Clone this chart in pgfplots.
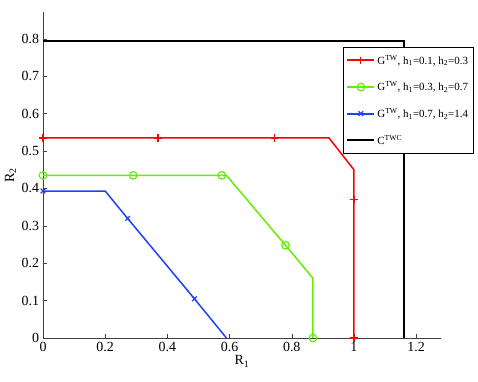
\documentclass[border=0pt]{standalone}
\usepackage{fontspec}
\setmainfont{Liberation Serif}
\usepackage{pgfplots}
\pgfplotsset{compat=1.18}
\definecolor{mred}{RGB}{255,0,0}
\definecolor{mgreen}{RGB}{102,238,0}
\definecolor{mblue}{RGB}{30,64,255}

\begin{document}
\fontsize{11}{13}\selectfont
\begin{tikzpicture}
\begin{axis}[
  name=ax,
  scale only axis,
  width=398bp, height=326bp,
  xmin=0, xmax=1.28,
  ymin=0, ymax=0.872,
  axis x line*=bottom,
  axis y line*=left,
  axis line style={-, black!75, line width=0.6bp},
  tick align=inside,
  major tick length=4bp,
  tick style={black!75, line width=0.5bp},
  xtick={0,0.2,0.4,0.6,0.8,1,1.2},
  ytick={0,0.1,0.2,0.3,0.4,0.5,0.6,0.7,0.8},
  /pgf/number format/assume math mode=true,
  every tick label/.append style={font=\fontsize{14}{16}\selectfont},
  every axis label/.append style={font=\fontsize{14}{16}\selectfont},
  xlabel={R\textsubscript{1}},
  ylabel={R\textsubscript{2}},
  xlabel style={yshift=3bp},
  ylabel style={yshift=-2bp},
  legend cell align=left,
  legend style={
    at={(0.754,0.893)}, anchor=north west,
    draw=black, fill=white, line width=0.6bp,
    font=\fontsize{11}{13}\selectfont,
    row sep=12bp,
    inner xsep=3bp, inner ysep=6bp
  },
  legend image code/.code={
    \draw[#1, mark=none, line width=2bp] (0bp,0bp) -- (27bp,0bp);
    \draw[#1] plot coordinates {(13.5bp,0bp)};
  },
]
\addplot[mred, line width=1.5bp, mark=+, mark size=3.8bp, mark options={mred, solid, line width=1.2bp},
  mark indices={1,2,3,6,7}] coordinates {
  (0,0.535) (0.37,0.535) (0.745,0.535) (0.92,0.535) (1,0.45) (1,0.37) (1,0)
};
\addlegendentry{G\textsuperscript{TW}, h\textsubscript{1}=0.1, h\textsubscript{2}=0.3}
\addplot[mgreen, line width=1.5bp, mark=o, mark size=3.8bp, mark options={mgreen, solid, line width=1.2bp},
  mark indices={1,2,3,5,7}] coordinates {
  (0,0.435) (0.29,0.435) (0.575,0.435) (0.59,0.435) (0.78,0.248) (0.868,0.16) (0.868,0)
};
\addlegendentry{G\textsuperscript{TW}, h\textsubscript{1}=0.3, h\textsubscript{2}=0.7}
\addplot[mblue, line width=1.5bp, mark=x, mark size=3.3bp, mark options={mblue, solid, line width=1.2bp},
  mark indices={1,3,4}] coordinates {
  (0,0.393) (0.2,0.393) (0.272,0.32) (0.487,0.105) (0.59,0)
};
\addlegendentry{G\textsuperscript{TW}, h\textsubscript{1}=0.7, h\textsubscript{2}=1.4}
\addplot[black, line width=1.5bp] coordinates {
  (0,0.795) (1.161,0.795) (1.161,0)
};
\addlegendentry{C\textsuperscript{TWC}}
\end{axis}
\path ([xshift=-43bp,yshift=-44bp]ax.south west) rectangle ([xshift=37bp,yshift=12bp]ax.north east);
\end{tikzpicture}
\end{document}
